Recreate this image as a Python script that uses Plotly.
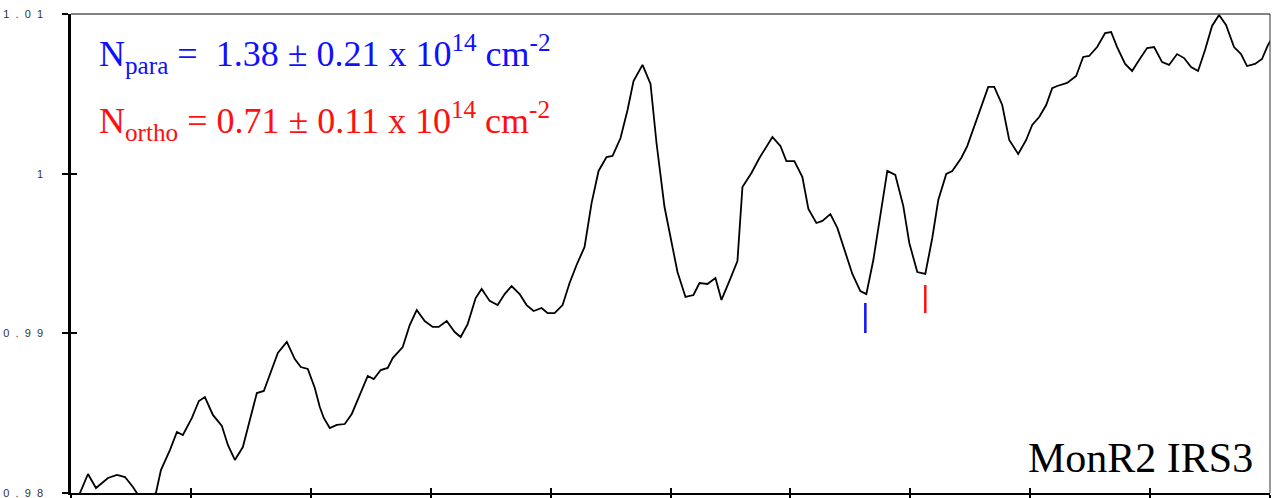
import plotly.graph_objects as go

# Spectrum (channel offset, normalised flux)
channel = [6, 17, 25, 37, 46, 54, 62, 69, 77, 85, 90, 99, 106, 112, 121, 128, 134, 142, 151, 157,
           164, 172, 179, 186, 193, 201, 207, 216, 224, 230, 237, 244, 249, 253, 259, 266, 274, 281, 289, 297,
           303, 310, 317, 322, 332, 339, 346, 354, 362, 368, 376, 384, 390, 397, 405, 411, 419, 427, 434, 441,
           449, 456, 463, 471, 477, 484, 492, 499, 506, 514, 521, 528, 536, 542, 550, 557, 563, 572, 580, 586,
           594, 601, 607, 615, 623, 629, 637, 645, 651, 659, 667, 672, 681, 689, 696, 702, 710, 716, 724, 732,
           738, 746, 752, 760, 767, 774, 782, 790, 796, 803, 810, 817, 825, 833, 839, 847, 855, 862, 868, 876,
           882, 891, 897, 906, 912, 918, 924, 932, 939, 948, 956, 962, 969, 976, 982, 987, 997, 1006, 1013, 1019,
           1027, 1035, 1041, 1047, 1055, 1062, 1069, 1077, 1084, 1092, 1099, 1107, 1114, 1121, 1128, 1135, 1142, 1149, 1156, 1164,
           1171, 1177, 1185, 1192, 1198, 1201]
flux = [0.97956, 0.98119, 0.98031, 0.98094, 0.98113, 0.98100, 0.98038, 0.97969, 0.97969, 0.98000,
        0.98144, 0.98269, 0.98382, 0.98363, 0.98470, 0.98576, 0.98601, 0.98489, 0.98420, 0.98301,
        0.98207, 0.98288, 0.98457, 0.98626, 0.98639, 0.98783, 0.98877, 0.98946, 0.98839, 0.98789,
        0.98777, 0.98658, 0.98539, 0.98470, 0.98407, 0.98426, 0.98432, 0.98495, 0.98620, 0.98733,
        0.98714, 0.98770, 0.98783, 0.98845, 0.98914, 0.99052, 0.99146, 0.99077, 0.99040, 0.99040,
        0.99077, 0.99008, 0.98977, 0.99058, 0.99221, 0.99278, 0.99203, 0.99177, 0.99246, 0.99296,
        0.99246, 0.99177, 0.99140, 0.99159, 0.99127, 0.99127, 0.99177, 0.99315, 0.99428, 0.99541,
        0.99816, 1.00017, 1.00104, 1.00111, 1.00223, 1.00399, 1.00580, 1.00681, 1.00562, 1.00192,
        0.99791, 0.99566, 0.99384, 0.99228, 0.99240, 0.99315, 0.99309, 0.99347, 0.99209, 0.99328,
        0.99453, 0.99916, 1.00004, 1.00098, 1.00167, 1.00230, 1.00173, 1.00079, 1.00079, 0.99979,
        0.99779, 0.99691, 0.99704, 0.99747, 0.99660, 0.99522, 0.99372, 0.99265, 0.99246, 0.99459,
        0.99729, 1.00017, 0.99992, 0.99797, 0.99566, 0.99384, 0.99372, 0.99597, 0.99835, 0.99998,
        1.00017, 1.00098, 1.00173, 1.00336, 1.00443, 1.00543, 1.00543, 1.00430, 1.00211, 1.00123,
        1.00211, 1.00305, 1.00355, 1.00430, 1.00536, 1.00549, 1.00568, 1.00612, 1.00731, 1.00737,
        1.00793, 1.00881, 1.00887, 1.00793, 1.00687, 1.00643, 1.00712, 1.00787, 1.00793, 1.00699,
        1.00681, 1.00749, 1.00724, 1.00668, 1.00643, 1.00774, 1.00925, 1.00994, 1.00931, 1.00793,
        1.00749, 1.00674, 1.00687, 1.00718, 1.00806, 1.00837]

# Line markers for the para / ortho components
para_x = [795, 795]
para_y = [0.99002, 0.99190]
ortho_x = [855, 855]
ortho_y = [0.99127, 0.99303]

y_ticks = [0.98, 0.99, 1.0, 1.01]
y_tick_text = ["0.98", "0.99", "1", "1.01"]

x_range = [0, 1200]
y_range = [0.98, 1.01]

NB = "\u00a0"


def spaced(label):
    return (NB * 2).join(label)


fig = go.Figure()
fig.add_trace(go.Scatter(x=channel, y=flux, mode="lines",
                         line=dict(color="black", width=1.8), showlegend=False, hoverinfo="skip"))
fig.add_trace(go.Scatter(x=para_x, y=para_y, mode="lines",
                         line=dict(color="#1010ff", width=2.5), showlegend=False, hoverinfo="skip"))
fig.add_trace(go.Scatter(x=ortho_x, y=ortho_y, mode="lines",
                         line=dict(color="#ff1010", width=2.5), showlegend=False, hoverinfo="skip"))
# companion axes carry the inner halves of the crossing tick marks
fig.add_trace(go.Scatter(x=[None], y=[None], xaxis="x2", yaxis="y2",
                         showlegend=False, hoverinfo="skip"))

fig.update_layout(
    width=1278, height=498,
    margin=dict(l=71, r=8, t=14, b=5, autoexpand=False),
    paper_bgcolor="white", plot_bgcolor="white",
    xaxis=dict(range=x_range, dtick=120, tick0=0, ticks="outside", ticklen=5, tickwidth=1.5,
               tickcolor="black", showline=True, linecolor="black", linewidth=2,
               showticklabels=False, showgrid=False, zeroline=False, automargin=False),
    yaxis=dict(range=y_range, tickmode="array", tickvals=y_ticks,
               ticktext=[spaced(t) for t in y_tick_text],
               ticks="outside", ticklen=6, tickwidth=1.5, tickcolor="black",
               showline=True, linecolor="black", linewidth=2.5, automargin=False,
               showgrid=False, zeroline=False, ticklabelstandoff=17,
               ticklabeloverflow="allow",
               tickfont=dict(family="Liberation Sans, Arial", size=11, color="#333")),
    xaxis2=dict(range=x_range, dtick=120, tick0=0, overlaying="x", anchor="y2", side="bottom",
                ticks="inside", ticklen=5, tickwidth=1.5, tickcolor="black", automargin=False,
                showline=False, showticklabels=False, showgrid=False, zeroline=False),
    yaxis2=dict(range=y_range, tickmode="array", tickvals=y_ticks, overlaying="y", anchor="x2",
                side="left", ticks="inside", ticklen=6, tickwidth=1.5, tickcolor="black",
                automargin=False,
                showline=False, showticklabels=False, showgrid=False, zeroline=False),
    shapes=[
        dict(type="line", xref="paper", yref="paper", x0=0, x1=1, y0=1, y1=1,
             line=dict(color="#5a5a5a", width=1.5)),
        dict(type="line", xref="paper", yref="paper", x0=1, x1=1, y0=0, y1=1,
             line=dict(color="#333", width=1)),
    ],
)

serif = "Liberation Serif, Times New Roman, serif"
fig.add_annotation(xref="paper", yref="paper", x=0.0217, y=0.972, xanchor="left", yanchor="top",
                   showarrow=False, align="left",
                   text="N<sub>para</sub> = " + NB + "1.38 ± 0.21 x 10<sup>14</sup> cm<sup>-2</sup>",
                   font=dict(family=serif, size=36, color="#1010ff"))
fig.add_annotation(xref="paper", yref="paper", x=0.0217, y=0.833, xanchor="left", yanchor="top",
                   showarrow=False, align="left",
                   text="N<sub>ortho</sub> = 0.71 ± 0.11 x 10<sup>14</sup> cm<sup>-2</sup>",
                   font=dict(family=serif, size=36, color="#ff1010"))
fig.add_annotation(xref="paper", yref="paper", x=0.9875, y=0.02, xanchor="right", yanchor="bottom",
                   showarrow=False, text="MonR2 IRS3",
                   font=dict(family=serif, size=42, color="black"))

fig.write_html("out.html")
